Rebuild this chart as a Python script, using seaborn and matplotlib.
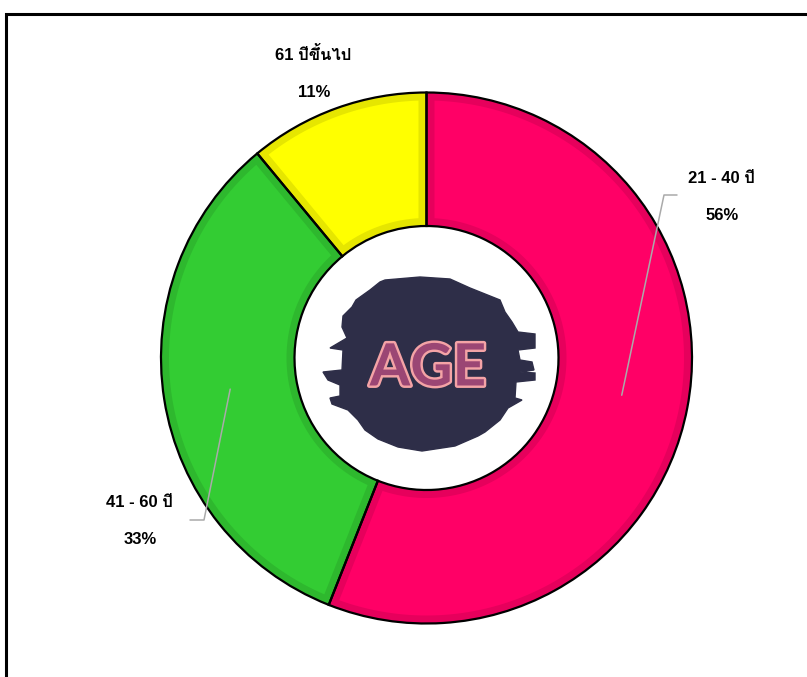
import numpy as np
import pandas as pd
import seaborn as sns
import matplotlib.pyplot as plt
from matplotlib import font_manager, patches, patheffects
from matplotlib.colors import to_rgb
from fontTools.ttLib import TTFont

# data
groups = ["21 - 40 ปี", "41 - 60 ปี", "61 ปีขึ้นไป"]
shares = [56, 33, 11]
slice_colors = ["#FF0066", "#33CC33", "#FFFF00"]
center_word = "AGE"

W, H = 807, 677


def find_thai_font():
    # look for any installed font that has Thai glyphs
    for fe in font_manager.fontManager.ttflist:
        try:
            kw = {"fontNumber": 0} if fe.fname.lower().endswith((".ttc", ".otc")) else {}
            cmap = TTFont(fe.fname, lazy=True, **kw).getBestCmap()
        except Exception:
            continue
        if cmap and 0x0E1B in cmap and 0x0E35 in cmap:
            return fe.name
    return None


def inset_wedge(theta1, theta2, r_in, r_out, b, n=150):
    # part of the ring sector that is at least b away from its border
    ro, ri = r_out - b, r_in + b
    a_o = np.rad2deg(np.arcsin(b / ro))
    a_i = np.rad2deg(np.arcsin(b / ri))
    t_out = np.deg2rad(np.linspace(theta1 + a_o, theta2 - a_o, n))
    t_in = np.deg2rad(np.linspace(theta2 - a_i, theta1 + a_i, n))
    xs = np.concatenate([ro * np.cos(t_out), ri * np.cos(t_in)])
    ys = np.concatenate([ro * np.sin(t_out), ri * np.sin(t_in)])
    return np.column_stack([xs, ys])


sns.set_theme(style="white")
thai = find_thai_font()
plt.rcParams["font.family"] = ["Liberation Sans"] + ([thai] if thai else []) + ["DejaVu Sans"]

df = pd.DataFrame({"group": groups, "share": shares, "color": slice_colors})
band_colors = [tuple(np.array(to_rgb(c)) * 0.9) for c in df["color"]]

fig = plt.figure(figsize=(W / 100, H / 100), dpi=100)
ax = fig.add_axes([0, 0, 1, 1])

cx, cy = 426.5, H - 358
r_out, r_in = 265.5, 132
band = 8

# darker band = full wedge, then the lighter inset on top
wedges, _ = ax.pie(df["share"], colors=band_colors, startangle=90, counterclock=False,
                   center=(cx, cy), radius=r_out,
                   wedgeprops=dict(width=r_out - r_in, linewidth=0))
for w, c in zip(wedges, df["color"]):
    pts = inset_wedge(w.theta1, w.theta2, r_in, r_out, band) + [cx, cy]
    ax.add_patch(patches.Polygon(pts, closed=True, facecolor=c, edgecolor="none", zorder=2))

# black outlines on top
ax.pie(df["share"], startangle=90, counterclock=False, center=(cx, cy), radius=r_out,
       wedgeprops=dict(width=r_out - r_in, fill=False, edgecolor="black", linewidth=1.6, zorder=3))

# labels (y given from the top of the image)
label_layout = {
    "21 - 40 ปี": dict(x=721, y=183, elbow=(664, 195), end=(677, 195)),
    "41 - 60 ปี": dict(x=139, y=507, elbow=(204, 520), end=(190, 520)),
    "61 ปีขึ้นไป": dict(x=313, y=60, elbow=None, end=None),
}
r_mid = (r_out + r_in) / 2
for w, (_, row) in zip(wedges, df.iterrows()):
    lay = label_layout[row["group"]]
    ax.text(lay["x"], H - lay["y"], row["group"], ha="center", va="baseline",
            fontsize=12, fontweight="bold", color="black")
    ax.text(lay["x"] + 1, H - lay["y"] - 37, f"{row['share']}%", ha="center", va="baseline",
            fontsize=12, fontweight="bold", color="black")
    if lay["elbow"] is not None:
        ang = np.deg2rad((w.theta1 + w.theta2) / 2)
        xs = [cx + r_mid * np.cos(ang), lay["elbow"][0], lay["end"][0]]
        ys = [cy + r_mid * np.sin(ang), H - lay["elbow"][1], H - lay["end"][1]]
        ax.plot(xs, ys, color="#AAAAAA", linewidth=1.1, zorder=4)

# center badge: brush blob + word
navy = "#2E2E48"
blob = [(385, 280), (420, 277), (450, 279), (470, 288), (490, 296), (500, 300), (505, 312),
        (512, 322), (518, 332), (535, 334), (535, 348), (518, 350), (520, 360), (532, 362),
        (534, 370), (520, 372), (535, 373), (535, 380), (516, 382), (515, 398), (522, 400),
        (508, 408), (500, 420), (495, 424), (485, 432), (478, 436), (455, 446), (422, 451),
        (398, 447), (378, 439), (365, 430), (358, 420), (348, 410), (332, 404), (330, 398),
        (340, 396), (340, 385), (328, 380), (323, 372), (342, 370), (343, 350), (330, 348),
        (347, 338), (342, 327), (343, 316), (352, 307), (356, 300), (370, 290), (380, 282)]
ax.add_patch(patches.Polygon([(x, H - y) for x, y in blob], closed=True, color=navy, zorder=5))

ax.text(428, H - 369, center_word, ha="center", va="center", fontsize=42, fontweight="bold",
        family="Lato", color="#9B4674", zorder=6,
        path_effects=[patheffects.Stroke(linewidth=3.5, foreground="#F4A3A6"), patheffects.Normal()])

# frame
ax.add_patch(patches.Rectangle((5.5, -20), W, H - 13.5 + 20, fill=False, edgecolor="black",
                               linewidth=2.2, clip_on=False, zorder=7))

ax.set_xlim(0, W)
ax.set_ylim(0, H)
ax.axis("off")

fig.savefig("out.png", dpi=100)
